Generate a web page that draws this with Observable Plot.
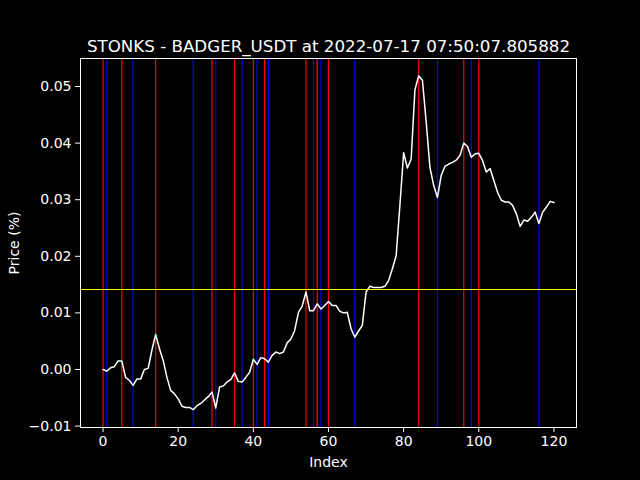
<!DOCTYPE html>
<html>
<head>
<meta charset="utf-8">
<script src="https://cdn.jsdelivr.net/npm/d3@7"></script>
<script src="https://cdn.jsdelivr.net/npm/@observablehq/plot@0.6"></script>
<style>
  html, body { margin: 0; padding: 0; background: #000; }
  #chart { width: 640px; height: 480px; }
</style>
</head>
<body>
<div id="chart"></div>
<script>
const titleText = "STONKS - BADGER_USDT at 2022-07-17 07:50:07.805882";
const xLabel = "Index";
const yLabel = "Price (%)";

const prices = [
  0.0000, -0.0003, 0.0003, 0.0005, 0.0015, 0.0015, -0.0014, -0.0019, -0.0028, -0.0017,
  -0.0017, 0.0000, 0.0002, 0.0034, 0.0062, 0.0037, 0.0016, -0.0014, -0.0037, -0.0043,
  -0.0052, -0.0065, -0.0067, -0.0067, -0.0071, -0.0064, -0.0060, -0.0054, -0.0048, -0.0040,
  -0.0068, -0.0031, -0.0029, -0.0022, -0.0018, -0.0006, -0.0021, -0.0022, -0.0014, -0.0005,
  0.0018, 0.0009, 0.0021, 0.0019, 0.0013, 0.0025, 0.0031, 0.0028, 0.0031, 0.0047,
  0.0054, 0.0069, 0.0101, 0.0112, 0.0137, 0.0104, 0.0104, 0.0116, 0.0107, 0.0113,
  0.0120, 0.0113, 0.0113, 0.0103, 0.0100, 0.0101, 0.0072, 0.0057, 0.0068, 0.0078,
  0.0137, 0.0147, 0.0145, 0.0145, 0.0145, 0.0147, 0.0157, 0.0178, 0.0201, 0.0290,
  0.0383, 0.0356, 0.0372, 0.0494, 0.0519, 0.0511, 0.0437, 0.0357, 0.0325, 0.0304,
  0.0343, 0.0359, 0.0363, 0.0366, 0.0370, 0.0378, 0.0400, 0.0394, 0.0375, 0.0381,
  0.0382, 0.0369, 0.0349, 0.0355, 0.0334, 0.0313, 0.0299, 0.0296, 0.0296, 0.0290,
  0.0275, 0.0253, 0.0264, 0.0262, 0.0269, 0.0278, 0.0258, 0.0278, 0.0287, 0.0297,
  0.0295
];
const redSignals = [0, 5, 14, 29, 35, 40, 43, 54, 57, 60, 84, 96, 100];
const blueSignals = [1, 8, 24, 30, 37, 41, 44, 56, 58, 67, 89, 98, 116];
const threshold = [0.01413];
const xTicks = [0, 20, 40, 60, 80, 100, 120];
const yTicks = [-0.01, 0.00, 0.01, 0.02, 0.03, 0.04, 0.05];

const series = prices.map((v, i) => ({index: i, price: v}));

const chart = Plot.plot({
  width: 640,
  height: 480,
  marginLeft: 80,
  marginRight: 64,
  marginTop: 58,
  marginBottom: 53,
  style: {background: "#000", color: "#fff", fontFamily: "DejaVu Sans", fontSize: "14px"},
  x: {domain: [-6, 126]},
  y: {domain: [-0.01025, 0.05495]},
  marks: [
    Plot.ruleX(redSignals, {x: d => d, stroke: "red", strokeWidth: 1.2}),
    Plot.ruleX(blueSignals, {x: d => d, stroke: "blue", strokeWidth: 1.2}),
    Plot.line(series, {x: "index", y: "price", stroke: "#fff", strokeWidth: 1.5}),
    Plot.ruleY(threshold, {y: d => d, stroke: "yellow", strokeWidth: 1}),
    Plot.frame({stroke: "#fff"}),
    Plot.axisX({ticks: xTicks, tickSize: 5, tickPadding: 4, fontSize: 14, label: xLabel, labelAnchor: "center", labelOffset: 39, labelArrow: "none"}),
    Plot.axisY({ticks: yTicks, tickSize: 5, tickPadding: 4, fontSize: 14, tickFormat: d3.format(".2f"), label: yLabel, labelAnchor: "center", labelOffset: 71, labelArrow: "none"}),
    Plot.text([titleText], {frameAnchor: "top", lineAnchor: "bottom", dy: -7, fontSize: 16.7, fill: "#fff", text: d => d})
  ]
});
document.getElementById("chart").appendChild(chart);
</script>
</body>
</html>
